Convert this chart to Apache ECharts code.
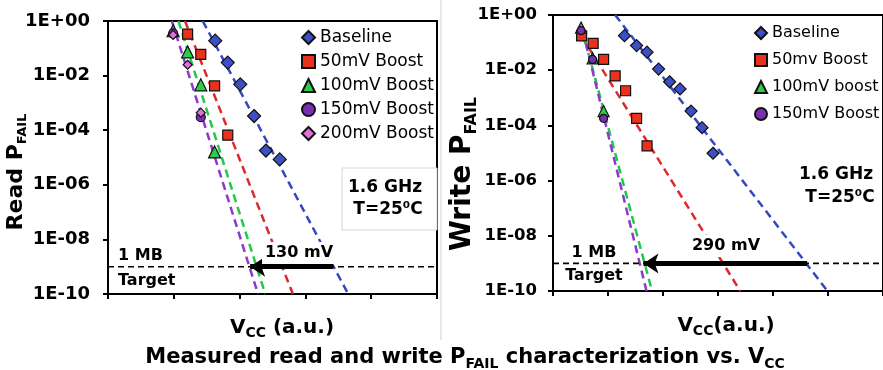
<!DOCTYPE html>
<html><head><meta charset="utf-8">
<script src="https://cdn.jsdelivr.net/npm/echarts@6/dist/echarts.min.js"></script>
<style>html,body{margin:0;padding:0;background:#fff}#c{width:883px;height:370px}</style>
</head><body><div id="c"></div>
<script>
// ---------- data (read chart) ----------
const readBaseX = [1.63, 1.82, 2.01, 2.22, 2.40, 2.61];
const readBaseY = [0.19, 0.030, 0.0048, 0.00033, 1.8e-5, 8.5e-6];
const read50X = [1.21, 1.41, 1.62, 1.82];
const read50Y = [0.33, 0.060, 0.0042, 6.6e-5];
const read100X = [0.99, 1.21, 1.41, 1.62];
const read100Y = [0.44, 0.074, 0.0046, 1.6e-5];
const read150X = [0.99, 1.41];
const read150Y = [0.35, 0.0003];
const read200X = [0.99, 1.21, 1.41];
const read200Y = [0.31, 0.025, 0.00044];
// fitted dashed lines: [x at 1E+00, x at 1E-10]
const readFitBaseX = [1.44, 3.65];
const readFit50X = [1.17, 2.81];
const readFit100X = [1.07, 2.39];
const readFit150X = [0.97, 2.28];
const readFitY = [1, 1e-10];
const readArrowX = [3.42, 2.16];

// ---------- data (write chart) ----------
const writeBaseX = [1.30, 1.52, 1.71, 1.92, 2.12, 2.31, 2.51, 2.71, 2.91];
const writeBaseY = [0.178, 0.078, 0.045, 0.011, 0.0038, 0.0021, 0.00033, 8.3e-5, 9.8e-6];
const write50X = [0.52, 0.73, 0.92, 1.13, 1.32, 1.52, 1.71];
const write50Y = [0.174, 0.093, 0.0245, 0.0062, 0.0018, 0.00018, 1.8e-5];
const write100X = [0.51, 0.72, 0.92];
const write100Y = [0.35, 0.027, 0.00033];
const write150X = [0.51, 0.72, 0.92];
const write150Y = [0.27, 0.0245, 0.00018];
const writeFitBase = [[1.13, 1], [4.99, 1e-10]];
const writeFit50 = [[0.52, 0.17], [3.405, 1e-10]];
const writeFit100 = [[0.52, 0.35], [1.80, 1e-10]];
const writeFit150 = [[0.54, 0.27], [1.70, 1e-10]];
const writeArrowX = [4.62, 1.645];

const targetP = 1e-9;
const readLegendNames = ['Baseline', '50mV Boost', '100mV Boost', '150mV Boost', '200mV Boost'];
const writeLegendNames = ['Baseline', '50mv Boost', '100mV boost', '150mV Boost'];

// ---------- styles ----------
const FONT = "'DejaVu Sans', sans-serif";
const C = {
  blue: '#3d4fc4', red: '#e8321e', green: '#2ccc4e', purple: '#7a2fb0', pink: '#e070e0',
  lblue: '#3548c0', lred: '#e0282a', lgreen: '#22c84a', lpurple: '#8a3ad0'
};
const zip = (xs, ys) => xs.map((x, i) => [x, ys[i]]);
function fmt(v) {
  const e = Math.round(Math.log10(v));
  return '1E' + (e >= 0 ? '+' : '-') + String(Math.abs(e)).padStart(2, '0');
}
function sc(name, g, xs, ys, symbol, size, color) {
  return { type: 'scatter', name, xAxisIndex: g, yAxisIndex: g, symbol, symbolSize: size,
    itemStyle: { color, borderColor: '#111', borderWidth: 1.2, opacity: 1 }, data: zip(xs, ys), z: 5 };
}
function fit(g, pts, color) {
  return { type: 'line', name: 'fit', xAxisIndex: g, yAxisIndex: g, symbol: 'none', data: pts,
    lineStyle: { color, width: 2.5, type: [8, 5] }, z: 3 };
}
function target(g, xmax) {
  return { type: 'line', name: 'target', xAxisIndex: g, yAxisIndex: g, symbol: 'none',
    data: [[0, targetP], [xmax, targetP]], lineStyle: { color: '#000', width: 1.6, type: [6, 4] }, z: 4 };
}
function arrow(g, xs) {
  return { type: 'lines', coordinateSystem: 'cartesian2d', xAxisIndex: g, yAxisIndex: g,
    symbol: ['none', 'arrow'], symbolSize: 15,
    lineStyle: { color: '#000', width: 5, opacity: 1, curveness: 0 },
    data: [{ coords: [[xs[0], targetP], [xs[1], targetP]] }], z: 6 };
}
function xAx(g, max) {
  return { gridIndex: g, type: 'value', min: 0, max, interval: 1,
    axisLine: { show: true, onZero: false, lineStyle: { color: '#000', width: 2 } },
    axisTick: { show: true, length: 5, lineStyle: { color: '#000', width: 2 } },
    axisLabel: { show: false }, splitLine: { show: false } };
}
function yAx(g, fs, margin) {
  return { gridIndex: g, type: 'log', logBase: 10, min: 1e-10, max: 1, interval: 2,
    axisLine: { show: true, lineStyle: { color: '#000', width: 2 } },
    axisTick: { show: true, length: 5, lineStyle: { color: '#000', width: 2 } },
    axisLabel: { formatter: fmt, fontFamily: FONT, fontWeight: 'bold', fontSize: fs, color: '#000', margin },
    splitLine: { show: false }, minorTick: { show: false } };
}
function rt(fs, sub) {
  return {
    a: { fontFamily: FONT, fontWeight: 'bold', fontSize: fs, lineHeight: fs + 5, fill: '#000' },
    s: { fontFamily: FONT, fontWeight: 'bold', fontSize: sub, lineHeight: sub, verticalAlign: 'bottom', fill: '#000' }
  };
}
function txt(x, y, text, fs, opts) {
  opts = opts || {};
  return { type: 'text', x, y, z: 100, rotation: opts.rot || 0,
    style: Object.assign({ text, fontFamily: FONT, fontWeight: 'bold', fontSize: fs, fill: '#000',
      align: opts.align || 'center', verticalAlign: 'middle' }, opts.style || {}) };
}

const option = {
  animation: false,
  backgroundColor: '#fff',
  grid: [
    { left: 108, top: 21, width: 329, height: 273, show: true, borderColor: '#000', borderWidth: 2, backgroundColor: 'transparent' },
    { left: 553, top: 15, width: 366, height: 276, show: true, borderColor: '#000', borderWidth: 2, backgroundColor: 'transparent' }
  ],
  xAxis: [xAx(0, 5), xAx(1, 6)],
  yAxis: [yAx(0, 18, 18), yAx(1, 16.5, 16)],
  legend: [
    { left: 301, top: 29, padding: 0, orient: 'vertical', itemWidth: 13, itemHeight: 13, itemGap: 7, selectedMode: false,
      textStyle: { fontFamily: FONT, fontSize: 17, color: '#000' },
      data: [{ name: readLegendNames[0], icon: 'diamond' }, { name: readLegendNames[1], icon: 'rect' },
        { name: readLegendNames[2], icon: 'triangle' }, { name: readLegendNames[3], icon: 'circle' },
        { name: readLegendNames[4], icon: 'diamond' }] },
    { left: 754, top: 25, padding: 0, orient: 'vertical', itemWidth: 12, itemHeight: 12, itemGap: 11, selectedMode: false,
      textStyle: { fontFamily: FONT, fontSize: 16, color: '#000' },
      data: [{ name: writeLegendNames[0], icon: 'diamond' }, { name: writeLegendNames[1], icon: 'rect' },
        { name: writeLegendNames[2], icon: 'triangle' }, { name: writeLegendNames[3], icon: 'circle' }] }
  ],
  series: [
    fit(0, zip(readFitBaseX, readFitY), C.lblue),
    fit(0, zip(readFit50X, readFitY), C.lred),
    fit(0, zip(readFit100X, readFitY), C.lgreen),
    fit(0, zip(readFit150X, readFitY), C.lpurple),
    target(0, 5),
    arrow(0, readArrowX),
    sc(readLegendNames[0], 0, readBaseX, readBaseY, 'diamond', 13, C.blue),
    sc(readLegendNames[1], 0, read50X, read50Y, 'rect', 10, C.red),
    sc(readLegendNames[2], 0, read100X, read100Y, 'triangle', 12, C.green),
    sc(readLegendNames[3], 0, read150X, read150Y, 'circle', 9, C.purple),
    sc(readLegendNames[4], 0, read200X, read200Y, 'diamond', 9, C.pink),

    fit(1, writeFitBase, C.lblue),
    fit(1, writeFit50, C.lred),
    fit(1, writeFit100, C.lgreen),
    fit(1, writeFit150, C.lpurple),
    target(1, 6),
    arrow(1, writeArrowX),
    sc(writeLegendNames[0], 1, writeBaseX, writeBaseY, 'diamond', 12, C.blue),
    sc(writeLegendNames[1], 1, write50X, write50Y, 'rect', 10, C.red),
    sc(writeLegendNames[2], 1, write100X, write100Y, 'triangle', 11, C.green),
    sc(writeLegendNames[3], 1, write150X, write150Y, 'circle', 8, C.purple)
  ],
  graphic: [
    { type: 'line', z: 1, shape: { x1: 441, y1: 0, x2: 441, y2: 340 }, style: { stroke: '#d0d0d0', lineWidth: 1 } },
    { type: 'rect', z: 50, shape: { x: 342, y: 168, width: 95, height: 62 }, style: { fill: '#fff', stroke: '#d6d6d6', lineWidth: 1 } },
    txt(385, 188, '1.6 GHz', 17),
    txt(388, 210, 'T=25⁰C', 17),
    txt(118, 256, '1 MB', 16, { align: 'left' }),
    txt(118, 281, 'Target', 16, { align: 'left' }),
    txt(299, 253, '130 mV', 16, { style: { backgroundColor: '#fff', padding: [3, 3, 3, 3] } }),
    txt(16, 172, '{a|Read P}{s|FAIL}', 22, { rot: Math.PI / 2, style: { rich: rt(22, 13) } }),
    txt(282, 328, '{a|V}{s|CC}{a| (a.u.)}', 20, { style: { rich: rt(20, 14) } }),

    txt(836, 175, '1.6 GHz', 17),
    txt(840, 198, 'T=25⁰C', 17),
    txt(594, 253, '1 MB', 16),
    txt(594, 276, 'Target', 16),
    txt(726, 246, '290 mV', 16, { style: { backgroundColor: '#fff', padding: [3, 3, 3, 3] } }),
    txt(463, 174, '{a|Write P}{s|FAIL}', 28, { rot: Math.PI / 2, style: { rich: rt(28, 16) } }),
    txt(726, 326, '{a|V}{s|CC}{a|(a.u.)}', 20, { style: { rich: rt(20, 14) } }),

    txt(465, 358, '{a|Measured read and write P}{s|FAIL}{a| characterization vs. V}{s|CC}', 21, { style: { rich: rt(21, 14) } })
  ]
};
const chart = echarts.init(document.getElementById('c'), null, { renderer: 'canvas' });
chart.setOption(option);
</script>
</body></html>
